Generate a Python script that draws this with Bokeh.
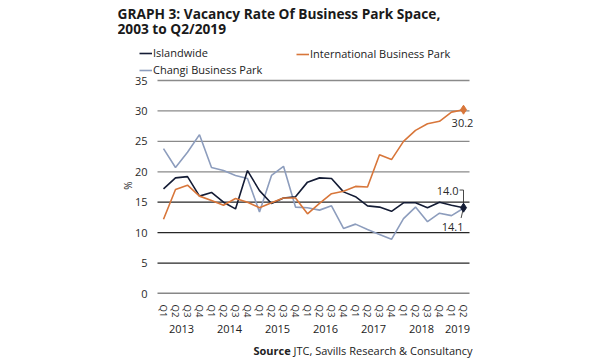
import math
from bokeh.plotting import figure
from bokeh.layouts import column
from bokeh.models import (FactorRange, ColumnDataSource, Label, Legend, LegendItem,
                          FixedTicker, Range1d)
from bokeh.embed import file_html
from bokeh.resources import INLINE

years = ["2013"] * 4 + ["2014"] * 4 + ["2015"] * 4 + ["2016"] * 4 + ["2017"] * 4 + ["2018"] * 4 + ["2019"] * 2
quarters = ["Q1", "Q2", "Q3", "Q4"] * 6 + ["Q1", "Q2"]

islandwide = [17.2, 19.0, 19.2, 16.0, 16.6, 15.0, 13.9, 20.2, 16.9, 14.8, 15.7, 15.9,
              18.3, 19.0, 18.9, 16.7, 15.9, 14.4, 14.2, 13.5, 14.9, 14.9, 14.1, 15.0, 14.5, 14.1]
international = [12.2, 17.1, 17.8, 16.0, 15.3, 14.5, 15.6, 15.0, 14.1, 14.9, 15.7, 15.7,
                 13.1, 14.8, 16.4, 16.8, 17.6, 17.5, 22.8, 22.0, 25.0, 26.8, 27.9, 28.3, 29.8, 30.2]
changi = [23.8, 20.7, 23.2, 26.1, 20.7, 20.2, 19.4, 18.9, 13.4, 19.4, 20.9, 14.2,
          14.1, 13.7, 14.4, 10.7, 11.4, 10.5, 9.7, 8.9, 12.3, 14.2, 11.8, 13.2, 12.8, 14.0]

y_ticks = [0, 5, 10, 15, 20, 25, 30, 35]
grid_light = [20, 25, 30, 35]
grid_dark = [5, 10, 15]

NAVY = "#141c35"
ORANGE = "#d8763a"
LIGHT = "#8d9dbd"
TXT = "#2a2a2a"
FONT = "Open Sans"

# ---- layout constants (pixels) ----
PLOT_L, PLOT_R = 157, 469          # where the quarters span horizontally
ZERO_Y, TOP_Y = 293, 80            # pixel rows of 0 and 35
FRAME_L = 117
PX_X = (PLOT_R - PLOT_L) / 26.0
PX_Y = (ZERO_Y - TOP_Y) / 35.0


def dx(px):
    return (px - PLOT_L) / PX_X


def dy(py):
    return (ZERO_Y - py) / PX_Y


factors = list(zip(years, quarters))
n = len(factors)
src = ColumnDataSource(dict(x=factors, isl=islandwide, intl=international, chg=changi))

pad = (PLOT_L - FRAME_L) / PX_X
xr = FactorRange(*factors, factor_padding=0, group_padding=0, subgroup_padding=0,
                 range_padding=pad, range_padding_units="absolute")
frame_w = (n + 2 * pad) * PX_X
border_r = int(round(600 - FRAME_L - frame_w))

p = figure(width=600, height=340, x_range=xr, y_range=Range1d(0, dy(0)),
           output_backend="svg", toolbar_location=None,
           min_border_left=FRAME_L, min_border_right=border_r,
           min_border_top=0, min_border_bottom=340 - ZERO_Y)
p.outline_line_color = None
p.xgrid.visible = False
p.ygrid.visible = False

# grid lines over the quarter span only
p.segment(x0=0, x1=n, y0=grid_light, y1=grid_light, line_color="#8a8a8a", line_width=1.3)
p.segment(x0=0, x1=n, y0=grid_dark, y1=grid_dark, line_color="#262626", line_width=1.3)
p.segment(x0=0, x1=n, y0=[y_ticks[0]], y1=[y_ticks[0]], line_color="#111111", line_width=1.6)

# y axis (labels pulled in next to the grid)
ya = p.yaxis[0]
ya.ticker = FixedTicker(ticks=y_ticks)
ya.axis_line_color = None
ya.major_tick_line_color = None
ya.minor_tick_line_color = None
ya.major_tick_out = 0
ya.major_tick_in = 0
ya.major_label_standoff = -(PLOT_L - 10 - FRAME_L)
ya.major_label_text_font = FONT
ya.major_label_text_font_size = "11px"
ya.major_label_text_color = TXT

# x axis
xa = p.xaxis[0]
xa.axis_line_color = None
xa.major_tick_line_color = None
xa.minor_tick_line_color = None
xa.major_label_orientation = "vertical"
xa.major_label_text_font = FONT
xa.major_label_text_font_size = "9.5px"
xa.major_label_text_color = TXT
xa.major_label_standoff = 5
xa.group_text_font = FONT
xa.group_text_font_size = "11px"
xa.group_text_font_style = "normal"
xa.group_text_color = "#222222"
xa.group_label_orientation = "horizontal"
xa.separator_line_alpha = 0

# "%" axis title
p.add_layout(Label(x=dx(127), y=dy(185), text="%", angle=math.pi / 2, text_align="center",
                   text_baseline="middle", text_font=FONT, text_font_size="10px", text_color=TXT))

# series
r_chg = p.line("x", "chg", source=src, line_color=LIGHT, line_width=1.6)
r_isl = p.line("x", "isl", source=src, line_color=NAVY, line_width=1.6)
r_int = p.line("x", "intl", source=src, line_color=ORANGE, line_width=1.6)

last = factors[-1]
p.scatter([last], [international[-1]], marker="diamond", size=9, color=ORANGE)

# leader lines for the end labels (relative to the last point)
xl = n - 0.5
yk = islandwide[-1] + 2.9
p.segment(x0=[xl, xl], y0=[islandwide[-1], yk], x1=[xl, xl - 0.33], y1=[yk, yk],
          line_color="#333333", line_width=0.9)
p.segment(x0=[xl], y0=[islandwide[-1]], x1=[xl - 0.2], y1=[islandwide[-1] - 1.7],
          line_color="#333333", line_width=0.9)
p.scatter([last], [islandwide[-1]], marker="diamond", size=9, color=NAVY)

lab_kw = dict(text_font=FONT, text_font_size="11px", text_color=TXT, text_baseline="middle")
p.add_layout(Label(x=xl, y=international[-1], text=f"{international[-1]:.1f}", text_align="center",
                   x_offset=-1, y_offset=-13, **lab_kw))
p.add_layout(Label(x=xl, y=islandwide[-1], text=f"{changi[-1]:.1f}", text_align="right",
                   x_offset=-5, y_offset=17, **lab_kw))
p.add_layout(Label(x=xl, y=islandwide[-1], text=f"{islandwide[-1]:.1f}", text_align="right",
                   x_offset=0, y_offset=-19, **lab_kw))

# legends (inside the frame, above the grid); location = bottom-left corner
leg_kw = dict(label_text_font=FONT, label_text_font_size="11px", label_text_color="#222222",
              glyph_width=13, glyph_height=14, label_height=14, label_standoff=1, spacing=2,
              padding=0, margin=0, border_line_color=None, background_fill_alpha=0)
leg1 = Legend(items=[LegendItem(label="Islandwide", renderers=[r_isl]),
                     LegendItem(label="Changi Business Park", renderers=[r_chg])],
              location=(139 - FRAME_L, ZERO_Y - 77), **leg_kw)
leg2 = Legend(items=[LegendItem(label="International Business Park", renderers=[r_int])],
              location=(296 - FRAME_L, ZERO_Y - 61), **leg_kw)
p.add_layout(leg1)
p.add_layout(leg2)

# title
t_kw = dict(text_font=FONT, text_font_size="13.7px", text_font_style="bold", text_color="#1a1a1a",
            text_baseline="alphabetic", text_align="left")
p.add_layout(Label(x=dx(117), y=dy(13), text="GRAPH 3: Vacancy Rate Of Business Park Space,", **t_kw))
p.add_layout(Label(x=dx(117), y=dy(28), text="2003 to Q2/2019", **t_kw))

# ---- source strip (its frame is aligned with the main frame by the column) ----
s = figure(width=600, height=20, x_range=Range1d(FRAME_L, FRAME_L + frame_w), y_range=Range1d(20, 0),
           x_axis_type=None, y_axis_type=None, output_backend="svg", toolbar_location=None,
           min_border_left=FRAME_L, min_border_right=border_r, min_border_top=0, min_border_bottom=0)
s.outline_line_color = None
s.xgrid.visible = False
s.ygrid.visible = False
s_kw = dict(text_font=FONT, text_font_size="11px", text_color="#222222", text_baseline="alphabetic")
s.add_layout(Label(x=253, y=10, text="Source", text_font_style="bold", **s_kw))
s.add_layout(Label(x=293, y=10, text="JTC, Savills Research & Consultancy", **s_kw))

layout = column(p, s, spacing=0)
open("out.html", "w").write(file_html(layout, INLINE))
